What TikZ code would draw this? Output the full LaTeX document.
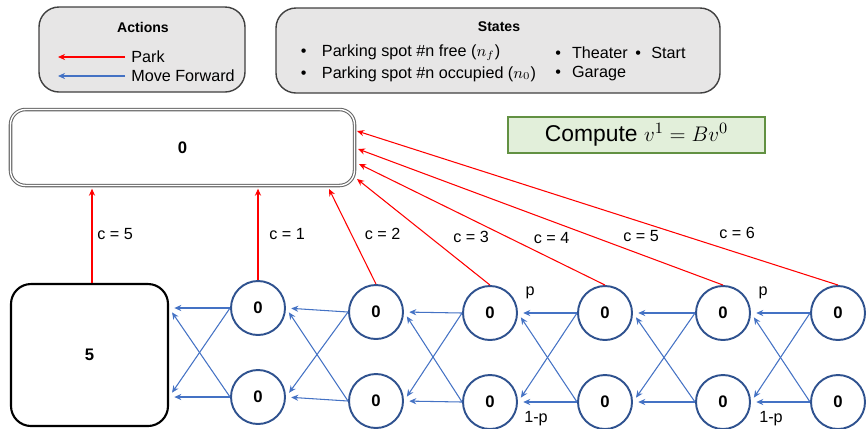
\documentclass[tikz,border=0pt]{standalone}
\usepackage{fontspec}
\setmainfont{Liberation Sans}
\usetikzlibrary{arrows.meta}

\begin{document}
\begin{tikzpicture}[
    font=\fontsize{9.2}{11}\selectfont,
    state/.style={circle, draw=cCirc, line width=1.1pt, minimum size=1.08cm, inner sep=0pt,
                  font=\fontsize{9.5}{11}\selectfont\bfseries},
    fwd/.style={cFwd, line width=0.6pt, -{Stealth[length=4pt,width=3.5pt]}},
    park/.style={cPark, line width=0.6pt, -{Stealth[length=4pt,width=3.5pt]}},
    cost/.style={text=black},
    panel/.style={draw=cEdge, fill=cPanel, rounded corners=0.4cm, line width=0.8pt},
    item/.style={anchor=west, inner sep=0pt},
  ]

  % Colors
  \definecolor{cPark}{RGB}{255,0,0}       % red
  \definecolor{cFwd}{RGB}{68,114,196}     % blue
  \definecolor{cCirc}{RGB}{47,82,143}     % dark blue
  \definecolor{cPanel}{RGB}{231,230,230}
  \definecolor{cEdge}{RGB}{64,64,64}
  \definecolor{cGreen}{RGB}{226,239,218}
  \definecolor{cGreenEdge}{RGB}{98,145,66}

  \useasboundingbox (0,0) rectangle (17.36,-8.56);

  % ---- Legend boxes ----
  \node[panel, minimum width=4.12cm, minimum height=1.70cm] (actions) at (2.84,-0.99) {};
  \node[font=\fontsize{8}{10}\selectfont\bfseries] (acttitle) at (2.86,-0.54) {Actions};
  \coordinate (pkA) at (2.50,-1.14);
  \coordinate (pkB) at (1.16,-1.14);
  \coordinate (mfA) at (2.50,-1.52);
  \coordinate (mfB) at (1.16,-1.52);
  \draw[park] (pkA) -- (pkB);
  \draw[fwd] (mfA) -- (mfB);
  \node[item] (pktxt) at (2.62,-1.14) {Park};
  \node[item] (mftxt) at (2.62,-1.52) {Move Forward};

  \node[panel, minimum width=8.88cm, minimum height=1.70cm] (states) at (9.96,-1.01) {};
  \node[font=\fontsize{8}{10}\selectfont\bfseries] (sttitle) at (9.98,-0.54) {States};
  \node[item] (free) at (6.01,-1.06) {\textbullet\hspace{8.8pt}Parking spot \#n free ($n_f$)};
  \node[item] (occ) at (6.01,-1.48) {\textbullet\hspace{8.8pt}Parking spot \#n occupied ($n_0$)};
  \node[item] (theater) at (11.10,-1.06) {\textbullet\hspace{6.3pt}Theater};
  \node[item] (garage) at (11.10,-1.48) {\textbullet\hspace{6.3pt}Garage};
  \node[item] (startst) at (12.70,-1.06) {\textbullet\hspace{5.9pt}Start};

  % ---- Terminal box and the formula ----
  \node[draw=cEdge!80, double, double distance=0.8pt, line width=0.6pt, rounded corners=0.3cm,
        minimum width=6.88cm, minimum height=1.52cm, font=\fontsize{9.5}{11}\selectfont\bfseries]
        (term) at (3.65,-2.95) {0};
  \node[draw=cGreenEdge, fill=cGreen, line width=1pt, minimum width=5.14cm, minimum height=0.72cm,
        font=\fontsize{13}{15}\selectfont] (compute) at (12.73,-2.70) {Compute $v^1 = Bv^0$};

  % ---- Start box and the two rows of spots ----
  \node[draw, line width=1.2pt, rounded corners=0.4cm, minimum width=3.14cm, minimum height=2.84cm,
        font=\fontsize{9.5}{11}\selectfont\bfseries] (start) at (1.79,-7.10) {5};

  \foreach \i/\x/\yt/\yb in {1/5.16/-6.16/-7.94, 2/7.52/-6.24/-8.02, 3/9.80/-6.26/-8.04,
                             4/12.10/-6.26/-8.04, 5/14.46/-6.26/-8.04, 6/16.76/-6.26/-8.04} {
    \node[state] (t\i) at (\x,\yt) {0};
    \node[state] (b\i) at (\x,\yb) {0};
  }

  % ---- Move forward: each column to the one on its left ----
  \foreach \i/\j in {2/1,3/2,4/3,5/4,6/5} {
    \draw[fwd, shorten >=3pt] (t\i.west) -- (t\j.east);
    \draw[fwd, shorten >=3pt] (t\i.west) -- (b\j.east);
    \draw[fwd, shorten >=3pt] (b\i.west) -- (b\j.east);
    \draw[fwd, shorten >=3pt] (b\i.west) -- (t\j.east);
  }
  \draw[fwd, shorten >=3pt] (t1.west) -- (start.east |- t1.west);
  \draw[fwd, shorten >=3pt] (t1.west) -- (start.east |- b1.west);
  \draw[fwd, shorten >=3pt] (b1.west) -- (start.east |- b1.west);
  \draw[fwd, shorten >=3pt] (b1.west) -- (start.east |- t1.west);

  % ---- Park: up to the terminal box ----
  \coordinate (s0) at ([xshift=0.05cm]start.north);
  \draw[park, shorten >=1.5pt] (s0) -- (s0 |- term.south) node[cost] (c0) at (2.30,-4.68) {c = 5};
  \draw[park, shorten >=1.5pt] (t1.north) -- (t1.north |- term.south) node[cost] (c1) at (5.74,-4.68) {c = 1};
  \foreach \i/\dx/\dy/\lx/\ly in {2/-0.52/-0.83/7.65/-4.68, 3/0.04/-0.63/9.42/-4.73,
                                  4/0.08/-0.33/11.03/-4.76, 5/0.06/-0.03/12.82/-4.73,
                                  6/0.04/0.33/14.74/-4.66}
    \draw[park] (t\i.north) -- ([shift={(\dx,\dy)}]term.east) node[cost] (c\i) at (\lx,\ly) {c = \i};

  % transition probabilities
  \node (p1) at (10.60,-5.86) {p};
  \node (q1) at (10.72,-8.38) {1-p};
  \node (p2) at (15.26,-5.86) {p};
  \node (q2) at (15.42,-8.38) {1-p};

\end{tikzpicture}
\end{document}
